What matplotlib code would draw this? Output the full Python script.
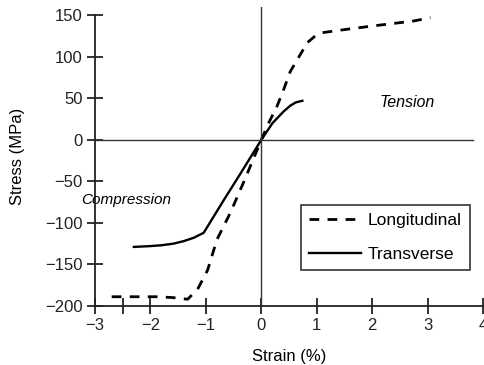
import matplotlib.pyplot as plt

plt.rcParams['font.family'] = ['Liberation Sans', 'DejaVu Sans']

# Longitudinal (dashed) curve, strain % vs stress MPa
long_strain = [-2.7, -2.3, -1.9, -1.6, -1.33, -1.15, -0.97, -0.8, -0.56, -0.3, 0.0,
               0.13, 0.28, 0.4, 0.52, 0.67, 0.83, 0.97, 1.1, 1.42, 2.0, 2.74, 3.05]
long_stress = [-189, -189, -189, -190, -192, -180, -157, -120, -88, -48, 0,
               20, 40, 60, 82, 99, 117, 125, 129, 132, 137, 143, 147]

# Transverse (solid) curve
trans_strain = [-2.3, -2.0, -1.8, -1.58, -1.4, -1.22, -1.04, -0.7, -0.38, 0.0,
                0.2, 0.4, 0.52, 0.62, 0.74]
trans_stress = [-129, -128, -127, -125, -122, -118, -112, -75, -41, 0,
                20, 34, 41, 45, 47]

xticks = [-3, -2, -1, 0, 1, 2, 3, 4]
yticks = [-200, -150, -100, -50, 0, 50, 100, 150]

fig = plt.figure(figsize=(4.85, 3.65), dpi=100)
ax = fig.add_axes([0.196, 0.162, 0.80, 0.819])

ax.plot(long_strain, long_stress, color='black', lw=2.0, linestyle=(0, (3.5, 3)),
        label='Longitudinal')
ax.plot(trans_strain, trans_stress, color='black', lw=1.7, label='Transverse')

# reference axes through origin
ax.axvline(0, color='#333333', lw=1.0)
ax.axhline(0, xmax=0.974, color='#333333', lw=1.0)

ax.set_xlim(-3, 4)
ax.set_ylim(-200, 160)
ax.set_xticks(xticks)
ax.set_xticks([-2.5], minor=True)
ax.set_yticks(yticks)
ax.spines['top'].set_visible(False)
ax.spines['right'].set_visible(False)
ax.spines['left'].set_bounds(-200, 150)
for s in ('left', 'bottom'):
    ax.spines[s].set_linewidth(1.3)
    ax.spines[s].set_color('#222222')
ax.tick_params(which='both', direction='inout', length=12, width=1.3,
               labelsize=12, colors='#222222', pad=3)

ax.set_xlabel('Strain (%)', fontsize=12, labelpad=11)
ax.set_ylabel('Stress (MPa)', fontsize=12, labelpad=14)

ax.text(-2.43, -72, 'Compression', fontsize=11, style='italic', ha='center', va='center')
ax.text(2.63, 45, 'Tension', fontsize=11.5, style='italic', ha='center', va='center')

leg = ax.legend(loc='lower right', bbox_to_anchor=(0.966, 0.12), borderaxespad=0,
                fontsize=12.5, frameon=True, fancybox=False, edgecolor='black',
                handlelength=3.0, borderpad=0.45, labelspacing=1.1, handletextpad=0.4)
leg.get_frame().set_linewidth(1.2)

fig.savefig('out.png', dpi=100)
